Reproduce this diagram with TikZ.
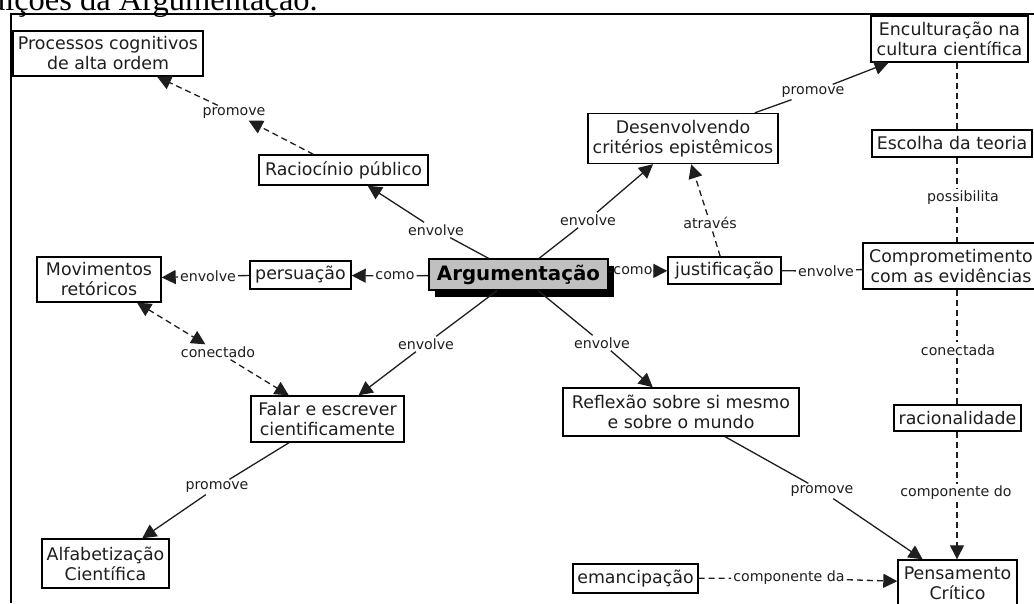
\documentclass[tikz,border=0pt]{standalone}
\usepackage{fontspec}
\setmainfont{DejaVu Sans}
\newfontfamily\titlefont{Liberation Serif}
\usetikzlibrary{arrows.meta,shadows}
\definecolor{argfill}{HTML}{C0C0C0}
\definecolor{ink}{HTML}{1E1E1E}
\begin{document}
\begin{tikzpicture}[x=1pt,y=-1pt,
  concept/.style={draw=black, line width=1.4pt, fill=white, inner sep=0pt,
    align=center, text=ink, font=\fontsize{17.4}{20}\selectfont},
  mainconcept/.style={concept, fill=argfill, text=black,
    font=\bfseries\fontsize{19.8}{24}\selectfont,
    drop shadow={shadow xshift=6pt, shadow yshift=-7pt, fill=black, opacity=1}},
  boxsize/.style 2 args={minimum width=#1pt, minimum height=#2pt},
  linkword/.style={inner sep=2pt, text=ink, font=\fontsize{14.2}{16}\selectfont},
  conn/.style={line width=1.3pt, draw=ink},
  dashconn/.style={line width=1.3pt, draw=ink, dash pattern=on 6pt off 4pt},
  tip/.style={-{Triangle[length=14pt,width=14pt]}},
  tips/.style={{Triangle[length=14pt,width=14pt]}-{Triangle[length=14pt,width=14pt]}}
]
\useasboundingbox (0,0) rectangle (1034,603);

% heading line above the frame
\node[anchor=base east, inner sep=0pt, text=black,
  font=\titlefont\fontsize{32.5}{36}\selectfont] (title) at (318,10)
  {Contribuições da Argumentação.};

% frame
\draw[line width=1.8pt] (11,603) -- (11,14) -- (1034,14);

% concepts
\node[concept, boxsize={190}{45}]  (proc)    at (108,53.5)   {Processos cognitivos\\de alta ordem};
\node[concept, boxsize={169}{30}]  (racio)   at (343.5,170)  {Raciocínio público};
\node[concept, boxsize={190}{50}]  (desenv)  at (683,138.5)  {Desenvolvendo\\critérios epistêmicos};
\node[concept, boxsize={157}{46}]  (encult)  at (949.5,39)   {Enculturação na\\cultura científica};
\node[concept, boxsize={160}{27}]  (escolha) at (952,143.5)  {Escolha da teoria};
\node[concept, boxsize={176}{46}]  (compr)   at (951,266)    {Comprometimento\\com as evidências};
\node[concept, boxsize={124}{45}]  (movim)   at (99,279.5)   {Movimentos\\retóricos};
\node[concept, boxsize={101}{28}]  (persu)   at (300.5,275)  {persuação};
\node[mainconcept, boxsize={179}{31}] (arg)  at (518.5,274.5) {Argumentação};
\node[concept, boxsize={113}{27}]  (justif)  at (724.5,270.5) {justificação};
\node[concept, boxsize={153}{46}]  (falar)   at (327.5,419)  {Falar e escrever\\cientificamente};
\node[concept, boxsize={236}{48}]  (reflex)  at (681,412)    {Reflexão sobre si mesmo\\e sobre o mundo};
\node[concept, boxsize={127}{26}]  (racion)  at (957.5,418)  {racionalidade};
\node[concept, boxsize={127}{49}]  (alfab)   at (105.5,563.5) {Alfabetização\\Científica};
\node[concept, boxsize={125}{29}]  (emanc)   at (635.5,578.5) {emancipação};
\node[concept, boxsize={119}{46}]  (pens)    at (957.5,583)  {Pensamento\\Crítico};

% linking phrases
\node[linkword] (l1)  at (234,113) {promove};
\node[linkword] (l2)  at (436,230) {envolve};
\node[linkword] (l3)  at (395,276) {como};
\node[linkword] (l4)  at (208,276) {envolve};
\node[linkword] (l5)  at (218,352) {conectado};
\node[linkword] (l6)  at (426,344) {envolve};
\node[linkword] (l7)  at (217,487) {promove};
\node[linkword] (l8)  at (588,220) {envolve};
\node[linkword] (l9)  at (813,92)  {promove};
\node[linkword] (l10) at (710,223) {através};
\node[linkword] (l11) at (633,271) {como};
\node[linkword] (l12) at (826,271) {envolve};
\node[linkword] (l13) at (963,198) {possibilita};
\node[linkword] (l14) at (958,350) {conectada};
\node[linkword] (l15) at (956,493) {componente do};
\node[linkword] (l16) at (602,343) {envolve};
\node[linkword] (l17) at (822,491) {promove};
\node[linkword] (l18) at (789,578) {componente da};

% vertical guide for the right-hand column of links
\coordinate (vline) at (957,0);

% connectors
\draw[dashconn, tip] (racio) -- (l1);
\draw[dashconn, tip] (l1) -- (proc);

\draw[conn] (arg) -- (l2);
\draw[conn, tip] (l2) -- (racio);

\draw[conn] (arg) -- (l3);
\draw[conn, tip] (l3) -- (persu);

\draw[conn] (persu) -- (l4);
\draw[conn, tip] (l4) -- (movim);

\draw[dashconn, tips] (movim) -- (l5);
\draw[dashconn, tip] (l5) -- (falar);

\draw[conn] (arg) -- (l6);
\draw[conn, tip] (l6) -- (falar);

\draw[conn] (falar) -- (l7);
\draw[conn, tip] (l7) -- (alfab);

\draw[conn] (arg) -- (l8);
\draw[conn, tip] (l8) -- (desenv);

\draw[conn] (desenv) -- (l9);
\draw[conn, tip] (l9) -- (encult);

\draw[dashconn] (justif) -- (l10);
\draw[dashconn, tip] (l10) -- (desenv);

\draw[conn] (arg) -- (l11);
\draw[conn, tip] (l11) -- (justif);

\draw[conn] (justif) -- (l12);
\draw[conn] (l12) -- (compr);

\draw[dashconn] (encult.south -| vline) -- (escolha.north -| vline);
\draw[dashconn] (escolha.south -| vline) -- (l13.north -| vline);
\draw[dashconn] (l13.south -| vline) -- (compr.north -| vline);
\draw[dashconn] (compr.south -| vline) -- (l14.north -| vline);
\draw[dashconn] (l14.south -| vline) -- (racion.north -| vline);
\draw[dashconn] (racion.south -| vline) -- (l15.north -| vline);
\draw[dashconn, tip] (l15.south -| vline) -- (pens.north -| vline);

\draw[conn] (arg) -- (l16);
\draw[conn, tip] (l16) -- (reflex);

\draw[conn] (reflex) -- (l17);
\draw[conn, tip] (l17) -- (pens);

\draw[dashconn] (emanc) -- (l18);
\draw[dashconn, tip] (l18) -- (pens);
\end{tikzpicture}
\end{document}
